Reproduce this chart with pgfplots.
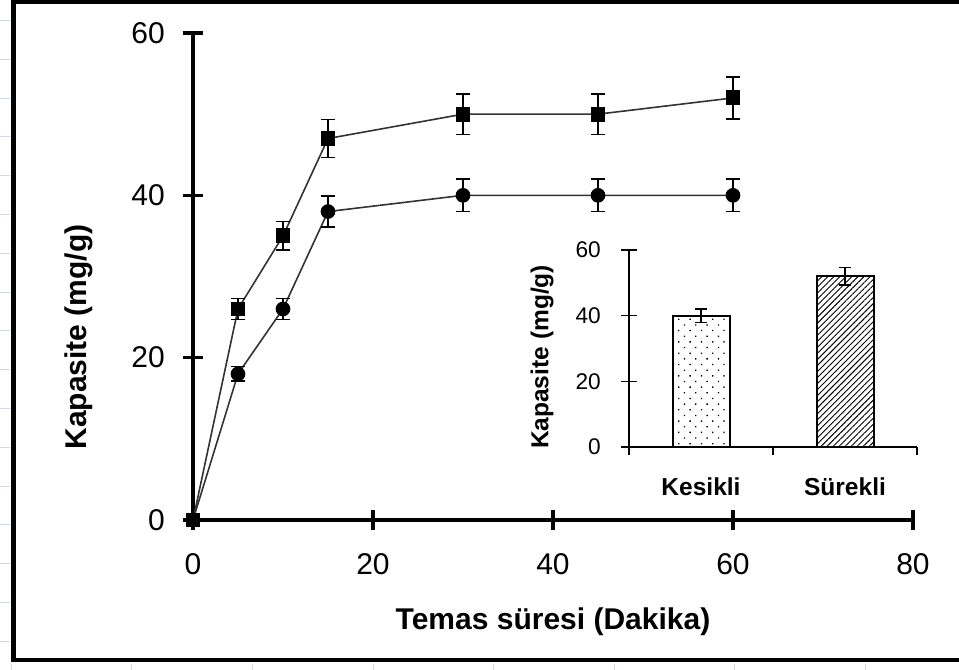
\documentclass[border=0pt]{standalone}
\usepackage{fontspec}
\setmainfont{Liberation Sans}
\usepackage{pgfplots}
\pgfplotsset{compat=1.18}
\usetikzlibrary{patterns.meta}
\definecolor{gridc}{RGB}{208,215,229}

\pgfplotstableread{
x y e
0 0 0
5 26 1.3
10 35 1.75
15 47 2.35
30 50 2.5
45 50 2.5
60 52 2.6
}\surekli
\pgfplotstableread{
x y e
0 0 0
5 18 0.9
10 26 1.3
15 38 1.9
30 40 2
45 40 2
60 40 2
}\kesikli

\begin{document}
\begin{tikzpicture}
\useasboundingbox (0,0) rectangle (719.25pt,-502.5pt);
\clip (0,0) rectangle (719.25pt,-502.5pt);
\begin{scope}[x=0.75pt,y=-0.75pt]
\foreach \k in {0,...,16} \draw[gridc, line width=0.75pt] (0,{20.5+38.8*\k}) -- (10,{20.5+38.8*\k});
\foreach \xx in {11,131,252,373,493,614,734,865} \draw[gridc, line width=0.75pt] (\xx,664) -- (\xx,670);
\draw[line width=3.2pt] (1000,2) -- (13.5,2) -- (13.5,660) -- (1000,660);
\end{scope}

\begin{axis}[
  at={(144.75pt,-390pt)}, anchor=south west, scale only axis,
  width=540pt, height=365.25pt,
  axis lines*=left, axis line style={line width=2.3pt, -},
  xmin=0, xmax=80, ymin=0, ymax=60,
  xtick={0,20,40,60,80}, ytick={0,20,40,60},
  tick align=center, major tick length=15pt,
  tick style={line width=2.3pt, black},
  clip=false,
  /pgf/number format/assume math mode=true,
  tick label style={font=\fontsize{22.5}{26}\selectfont, inner sep=0pt},
  xticklabel style={anchor=north, yshift=-17.25pt},
  yticklabel style={anchor=east, xshift=-13.5pt},
  xlabel={Temas süresi (Dakika)}, ylabel={Kapasite (mg/g)},
  label style={font=\bfseries\fontsize{22.5}{26}\selectfont},
  xlabel style={at={(axis description cs:0.5,-0.2094)}, anchor=center},
  ylabel style={at={(axis description cs:-0.1583,0.3758)}, anchor=center},
]
\addplot[black!80, line width=1.2pt, mark=square*, mark size=5pt,
  mark options={black, solid},
  error bars/.cd, y dir=both, y explicit,
  error bar style={black, line width=1.1pt},
  error mark options={rotate=90, mark size=5.5pt, line width=1.1pt, black}]
  table[x=x, y=y, y error=e] {\surekli};
\addplot[black!80, line width=1.2pt, mark=*, mark size=4.9pt,
  mark options={black, solid},
  error bars/.cd, y dir=both, y explicit,
  error bar style={black, line width=1.1pt},
  error mark options={rotate=90, mark size=5.5pt, line width=1.1pt, black}]
  table[x=x, y=y, y error=e] {\kesikli};
\end{axis}

\begin{axis}[
  at={(471.75pt,-335.25pt)}, anchor=south west, scale only axis,
  width=216pt, height=147.75pt,
  axis lines*=left, axis line style={line width=1.5pt, -},
  xmin=0, xmax=2, ymin=0, ymax=60,
  ytick={0,20,40,60}, ytick align=center, major tick length=12pt,
  xtick={0,1,2}, xticklabels={}, xtick align=outside,
  xtick style={/pgfplots/major tick length=6pt},
  tick style={line width=1.1pt, black},
  extra x ticks={0.5,1.5}, extra x tick labels={Kesikli,Sürekli},
  extra x tick style={xtick style={draw=none},
    xticklabel style={font=\bfseries\fontsize{18.4}{21}\selectfont, anchor=north, inner sep=0pt, yshift=-10.5pt}},
  clip=false,
  /pgf/number format/assume math mode=true,
  yticklabel style={font=\fontsize{17}{20}\selectfont, inner sep=0pt, anchor=east, xshift=-15pt},
  ylabel={Kapasite (mg/g)},
  ylabel style={font=\bfseries\fontsize{18.4}{21}\selectfont, at={(axis description cs:-0.302,0.457)}, anchor=center},
]
\addplot[ybar, bar width=42.75pt, bar shift=0pt, draw=black, line width=1.5pt,
  pattern={Dots[angle=45, distance=6pt, radius=0.7pt]},
  error bars/.cd, y dir=both, y explicit,
  error bar style={black, line width=1.1pt},
  error mark options={rotate=90, mark size=4.5pt, line width=1.1pt, black}]
  coordinates {(0.5,40) +- (0,2)};
\addplot[ybar, bar width=42.75pt, bar shift=0pt, draw=black, line width=1.5pt,
  pattern={Lines[angle=45, distance=3.2pt, line width=0.7pt]},
  error bars/.cd, y dir=both, y explicit,
  error bar style={black, line width=1.1pt},
  error mark options={rotate=90, mark size=4.5pt, line width=1.1pt, black}]
  coordinates {(1.5,52) +- (0,2.6)};
\end{axis}
\end{tikzpicture}
\end{document}
